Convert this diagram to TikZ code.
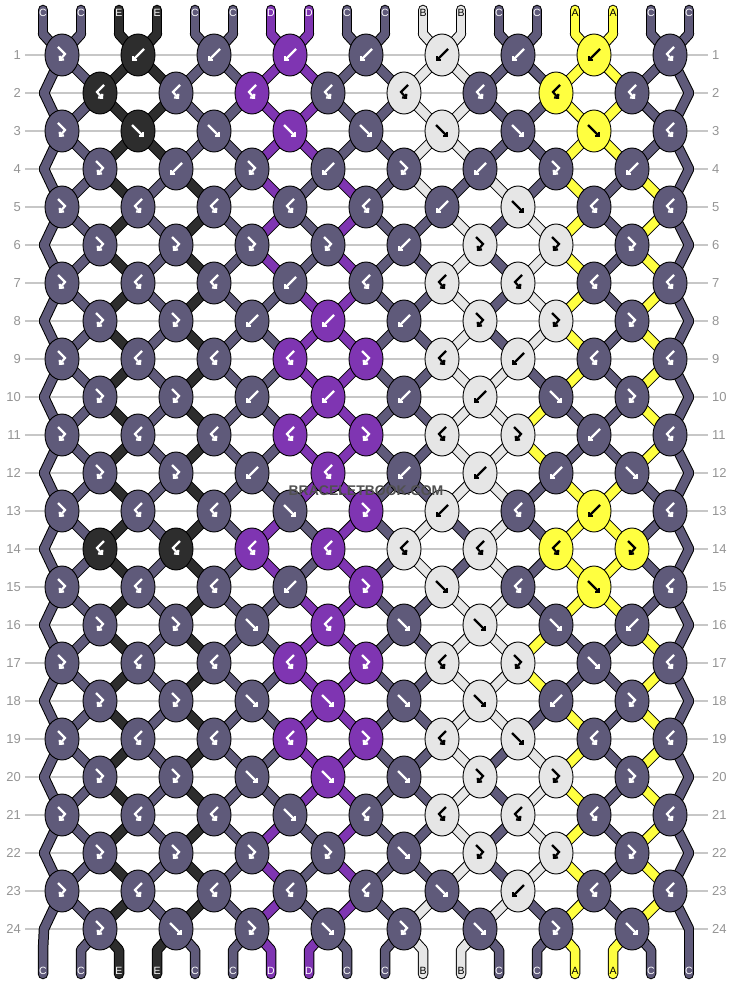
\documentclass[tikz,border=0pt]{standalone}
\usepackage[svgnames]{xcolor}
\usepackage{fontspec}
\setmainfont{Liberation Sans}
\usepackage{tikz}
\usetikzlibrary{arrows.meta,shapes.geometric}

\definecolor{colA}{RGB}{255,255,64}
\definecolor{colB}{RGB}{230,230,230}
\definecolor{colC}{RGB}{95,90,122}
\definecolor{colD}{RGB}{127,53,178}
\definecolor{colE}{RGB}{45,45,45}
\colorlet{txtA}{black}
\colorlet{txtB}{black}
\colorlet{txtC}{white}
\colorlet{txtD}{white}
\colorlet{txtE}{white}
\definecolor{markgray}{RGB}{80,80,80}

\pgfdeclarelayer{grid}
\pgfdeclarelayer{rims}
\pgfdeclarelayer{threads}
\pgfsetlayers{grid,rims,threads,main}

% f = forward, b = backward, F = forward-backward, B = backward-forward
\def\knotrows{%
{F,b,b,b,b,b,b,b,B},%
{B,B,B,B,B,B,B,B},%
{F,f,f,f,f,f,f,f,B},%
{F,b,F,b,F,b,F,b},%
{F,B,B,B,B,b,f,B,B},%
{F,F,F,F,b,F,F,F},%
{F,B,B,b,B,B,B,B,B},%
{F,F,b,b,b,F,F,F},%
{F,B,B,B,F,B,b,B,B},%
{F,F,b,b,b,b,f,F},%
{F,B,B,B,F,B,F,b,B},%
{F,F,b,B,b,b,b,f},%
{F,B,B,f,F,b,B,b,B},%
{B,B,B,B,B,B,B,F},%
{F,B,B,b,F,f,B,f,B},%
{F,F,f,B,f,f,f,b},%
{F,B,B,B,F,B,F,f,B},%
{F,F,f,f,f,f,b,F},%
{F,B,B,B,F,B,f,B,B},%
{F,F,f,f,f,F,F,F},%
{F,B,B,f,B,B,B,B,B},%
{F,F,F,F,f,F,F,F},%
{F,B,B,B,B,f,b,B,B},%
{F,f,F,f,F,f,F,f}}

\newcommand\ptname[2]{%
  \ifnum#1=0 \edef\pn{t-#2}%
  \else\ifnum#1=25 \edef\pn{u-#2}%
  \else\ifodd#1 \pgfmathtruncatemacro\kidx{(#2+1)/2}\edef\pn{k-#1-\kidx}%
  \else\ifnum#2=1 \edef\pn{e-#1-1}%
  \else\ifnum#2=18 \edef\pn{e-#1-18}%
  \else\pgfmathtruncatemacro\kidx{#2/2}\edef\pn{k-#1-\kidx}%
  \fi\fi\fi\fi\fi}

\newcommand\allstrands[1]{%
  \foreach \p in {1,...,18} {
    \edef\thc{\csname sc-1-\p\endcsname}
    \draw[#1=\thc] (a-\p.center) -- (t-\p.center);
    \edef\thc{\csname sc-25-\p\endcsname}
    \ptname{24}{\p}
    \draw[#1=\thc] (\pn.center) -- (u-\p.center) -- (w-\p.center);
  }
  \foreach \rw in {1,...,24} {
    \pgfmathtruncatemacro\rp{\rw-1}
    \foreach \p in {1,...,18} {
      \ptname{\rp}{\p}\let\pa\pn
      \ptname{\rw}{\p}\let\pb\pn
      \edef\thc{\csname sc-\rw-\p\endcsname}
      \draw[#1=\thc] (\pa.center) -- (\pb.center);
    }
  }}

\begin{document}
\begin{tikzpicture}[x=1pt, y=-1pt,
  knot/.style={ellipse, draw=black, line width=0.9, minimum width=34, minimum height=42, inner sep=0},
  glyph/.style={line width=2.2, line join=miter, -{Straight Barb[angle=90:4pt]}},
  rim/.style={line width=10.5, draw=black, line cap=round, line join=round},
  thread/.style={line width=8.5, draw=col#1, line cap=round, line join=round},
  rowline/.style={draw=black!22, line width=1.3},
  rownum/.style={text=black!42, font=\fontsize{13}{15}\selectfont, inner sep=0},
  tag/.style={font=\fontsize{10.5}{12}\selectfont, inner sep=0}]
  \useasboundingbox (0,0) rectangle (734,984);
  \begin{pgfonlayer}{grid}
    \foreach \rw in {1,...,24} {
      \pgfmathsetmacro\yy{55+38*(\rw-1)}
      \draw[rowline] (25,\yy) -- (708,\yy);
    }
  \end{pgfonlayer}
  \foreach \rw in {1,...,24} {
    \pgfmathsetmacro\yy{55+38*(\rw-1)}
    \node (ln-\rw) [rownum,anchor=east] at (21,\yy) {\rw};
    \node (rn-\rw) [rownum,anchor=west] at (712,\yy) {\rw};
    \coordinate (e-\rw-1) at (44,\yy);
    \coordinate (e-\rw-18) at (689,\yy);
  }
  \foreach \thc [count=\p] in {C,C,E,E,C,C,D,D,C,C,B,B,C,C,A,A,C,C} {
    \pgfmathsetmacro\xx{43+38*(\p-1)}
    \expandafter\xdef\csname th\p\endcsname{\thc}
    \coordinate (a-\p) at (\xx,10);
    \coordinate (t-\p) at (\xx,34);
    \coordinate (u-\p) at (\xx,950);
    \coordinate (w-\p) at (\xx,974);
    \node (n-\p) [tag,text=txt\thc] at (\xx,13) {\thc};
  }
  % knots, row by row
  \foreach \kts [count=\rw] in \knotrows {
    \pgfmathsetmacro\yy{55+38*(\rw-1)}
    \pgfmathtruncatemacro\ev{1-mod(\rw,2)}
    \foreach \p in {1,...,18} {
      \expandafter\xdef\csname sc-\rw-\p\endcsname{\csname th\p\endcsname}
    }
    \foreach \ty [count=\kn] in \kts {
      \pgfmathsetmacro\xx{62+38*\ev+76*(\kn-1)}
      \pgfmathtruncatemacro\p{2*\kn-1+\ev}
      \pgfmathtruncatemacro\q{\p+1}
      \edef\lcol{\csname th\p\endcsname}
      \edef\rcol{\csname th\q\endcsname}
      \edef\kcol{\rcol}
      \if f\ty \edef\kcol{\lcol}\fi
      \if F\ty \edef\kcol{\lcol}\fi
      \node (k-\rw-\kn) [knot,fill=col\kcol] at (\xx,\yy) {};
      \if f\ty \draw[glyph,draw=txt\kcol,shift={(\xx,\yy)}] (-6,-6) -- (6,6);\fi
      \if b\ty \draw[glyph,draw=txt\kcol,shift={(\xx,\yy)}] (6,-6) -- (-6,6);\fi
      \if F\ty \draw[glyph,draw=txt\kcol,shift={(\xx,\yy)}] (-4,-8) -- (3,-1) -- (-3,6);\fi
      \if B\ty \draw[glyph,draw=txt\kcol,shift={(\xx,\yy)}] (4,-8) -- (-3,-1) -- (3,6);\fi
      \ifnum 0\if f\ty 1\fi\if b\ty 1\fi>0
        \expandafter\xdef\csname th\p\endcsname{\rcol}
        \expandafter\xdef\csname th\q\endcsname{\lcol}
      \fi
    }
  }
  \foreach \p in {1,...,18} {
    \pgfmathsetmacro\xx{43+38*(\p-1)}
    \edef\thc{\csname th\p\endcsname}
    \expandafter\xdef\csname sc-25-\p\endcsname{\thc}
    \node (m-\p) [tag,text=txt\thc] at (\xx,971) {\thc};
  }
  \begin{pgfonlayer}{rims}\allstrands{rim}\end{pgfonlayer}
  \begin{pgfonlayer}{threads}\allstrands{thread}\end{pgfonlayer}
  \node (mark) [font=\fontsize{14}{16}\bfseries\selectfont,text=markgray] at (366,491) {BRACELETBOOK.COM};
\end{tikzpicture}
\end{document}
